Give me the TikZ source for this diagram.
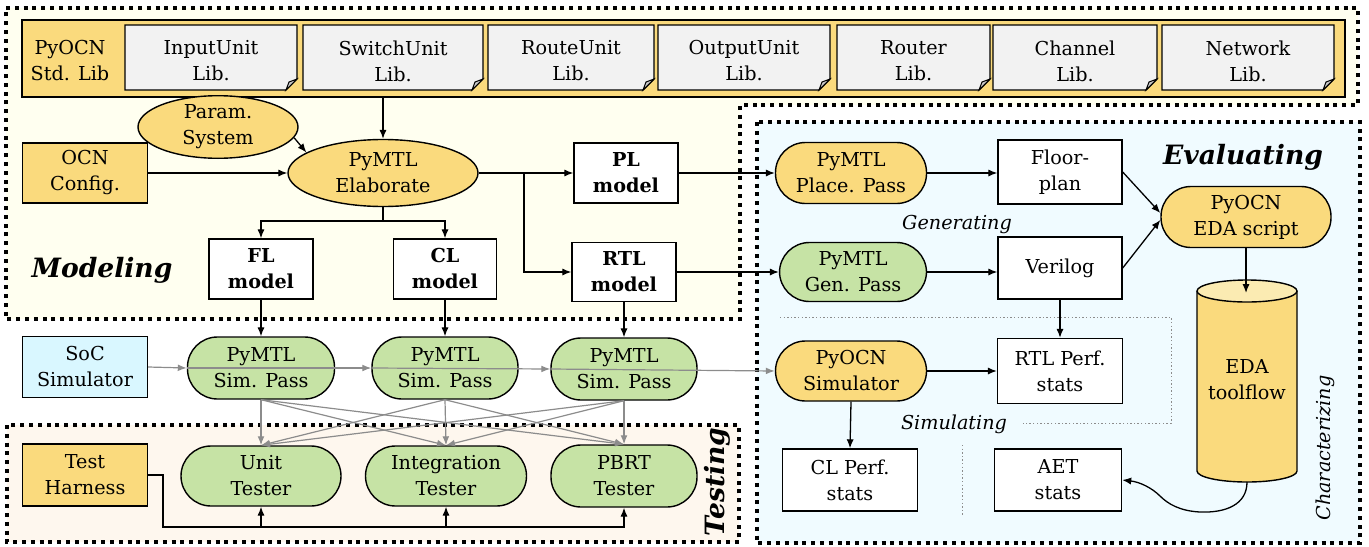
\documentclass[tikz,border=0pt]{standalone}
\usepackage{fontspec}
\setmainfont{DejaVu Serif}
\usetikzlibrary{arrows.meta,shapes.geometric}
\definecolor{golden}{RGB}{250,218,125}
\definecolor{greenp}{RGB}{198,227,165}
\definecolor{libgray}{RGB}{242,242,242}
\definecolor{foldgray}{RGB}{200,200,200}
\definecolor{socblue}{RGB}{217,247,255}
\definecolor{modbg}{RGB}{255,255,240}
\definecolor{evalbg}{RGB}{240,251,255}
\definecolor{testbg}{RGB}{254,247,238}
\definecolor{cyltopc}{RGB}{251,235,178}
\definecolor{arrgray}{RGB}{140,140,140}
\newcommand{\myfs}{\fontsize{9.6}{13}\selectfont}
\newcommand{\mybigfs}{\fontsize{13.3}{15}\selectfont\bfseries\itshape}
\newcommand{\mydoc}[4]{%
  \filldraw[fill=libgray, line width=0.7pt] (#2,25) -- (#3,25) -- (#3,79) -- (#3-11,90) -- (#2,90) -- cycle;
  \filldraw[fill=foldgray, line width=0.5pt] (#3-11,90) -- (#3,79) -- (#3-8,82) -- cycle;
  \node[base] (#1) at ({(#2+#3)/2},61) {#4};}
\begin{document}
\begin{tikzpicture}[x=0.5pt,y=-0.5pt,
  base/.style={line width=0.7pt, inner sep=0pt, align=center, font=\myfs},
  rbox/.style={base, draw, rectangle, fill=white},
  pill/.style={base, draw, rectangle, rounded corners=15pt},
  oval/.style={base, draw, ellipse, fill=golden},
  arr/.style={line width=0.65pt, -{Latex[length=4.5pt,width=3.6pt]}},
  garr/.style={line width=0.6pt, draw=arrgray, -{Latex[length=4.5pt,width=3.4pt]}},
  region/.style={line width=2pt, dash pattern=on 2pt off 2.4pt},
  sep/.style={line width=0.5pt, draw=arrgray, dash pattern=on 0.7pt off 1.1pt},
  biglab/.style={inner sep=0pt, font=\mybigfs},
  itlab/.style={inner sep=0pt, font=\myfs\itshape}]
\useasboundingbox (0,0) rectangle (1369,546);
% backgrounds
\fill[modbg] (6,8) -- (1358,8) -- (1358,105) -- (740,105) -- (740,319) -- (6,319) -- cycle;
\fill[evalbg] (757,122) rectangle (1360,543);
\fill[testbg] (7,425) rectangle (739,542);
\draw[region] (6,8) -- (1358,8) -- (1358,105) -- (740,105) -- (740,319) -- (6,319) -- cycle;
\draw[region] (757,122) rectangle (1360,543);
\draw[region] (7,425) rectangle (739,542);
% separators
\draw[sep] (780,317) -- (1171,317) -- (1171,423) -- (1023,423);
\draw[sep] (962,445) -- (962,515);
% library strip
\node[base, draw, fill=golden, minimum width=661.5pt, minimum height=38.5pt] (strip) at (683.5,58.5) {};
\node[base] (stdlib) at (70,61) {PyOCN\\Std. Lib};
\mydoc{inlib}{125}{297}{InputUnit\\Lib.}
\mydoc{swlib}{303}{483}{SwitchUnit\\Lib.}
\mydoc{rulib}{488}{654}{RouteUnit\\Lib.}
\mydoc{oulib}{658}{830}{OutputUnit\\Lib.}
\mydoc{rtlib}{837}{990}{Router\\Lib.}
\mydoc{chlib}{993}{1157}{Channel\\Lib.}
\mydoc{nwlib}{1162}{1334}{Network\\Lib.}
% modeling
\node[oval, minimum width=80pt, minimum height=25pt] (param) at (218,127) {Param.\\System};
\node[base, draw, fill=golden, minimum width=62.5pt, minimum height=30pt] (ocn) at (85,173) {OCN\\Config.};
\node[oval, minimum width=95pt, minimum height=33.5pt] (elab) at (383,173) {PyMTL\\Elaborate};
\node[rbox, minimum width=52pt, minimum height=30pt, font=\myfs\bfseries] (fl) at (261,269) {FL\\model};
\node[rbox, minimum width=51.5pt, minimum height=30pt, font=\myfs\bfseries] (cl) at (445,269) {CL\\model};
\node[rbox, minimum width=52pt, minimum height=30pt, font=\myfs\bfseries] (pl) at (626,173) {PL\\model};
\node[rbox, minimum width=52pt, minimum height=29.5pt, font=\myfs\bfseries] (rtl) at (624,272) {RTL\\model};
\node[biglab] (modlab) at (102,270) {Modeling};
% evaluating
\node[pill, fill=golden, minimum width=75.5pt, minimum height=30.5pt] (place) at (851,173) {PyMTL\\Place. Pass};
\node[rbox, minimum width=62pt, minimum height=32pt] (floor) at (1060,172) {Floor-\\plan};
\node[pill, fill=golden, minimum width=85pt, minimum height=30.5pt] (eda) at (1246,217) {PyOCN\\EDA script};
\node[pill, fill=greenp, minimum width=73.5pt, minimum height=29.5pt] (gen) at (853,272) {PyMTL\\Gen. Pass};
\node[rbox, minimum width=62pt, minimum height=31pt] (verilog) at (1060,268) {Verilog};
\node[rbox, minimum width=62.5pt, minimum height=32.5pt] (rtlperf) at (1060,371) {RTL Perf.\\stats};
\node[pill, fill=golden, minimum width=75.5pt, minimum height=30pt] (pysim) at (851,371) {PyOCN\\Simulator};
\node[rbox, minimum width=67.5pt, minimum height=31pt] (clperf) at (850,480) {CL Perf.\\stats};
\node[rbox, minimum width=63.5pt, minimum height=31pt] (aet) at (1058,480) {AET\\stats};
\fill[golden] (1197,291) -- (1197,471) arc[start angle=180,end angle=360,x radius=25pt,y radius=5.5pt] -- (1297,291) -- cycle;
\draw[line width=0.7pt] (1197,291) -- (1197,471) arc[start angle=180,end angle=360,x radius=25pt,y radius=5.5pt] -- (1297,291);
\filldraw[fill=cyltopc, line width=0.7pt] (1247,291) ellipse[x radius=25pt, y radius=5.5pt];
\node[base] (cyl) at (1247,380) {EDA\\toolflow};
\coordinate (cyltop) at (1246,293);
\coordinate (cylbot) at (1247,482);
\node[biglab] (evallab) at (1243,157) {Evaluating};
\node[itlab] (genlab) at (957,225) {Generating};
\node[itlab] (simlab) at (954,424) {Simulating};
\node[itlab, rotate=90] (charlab) at (1325,448) {Characterizing};
% simulation
\node[base, draw, fill=socblue, minimum width=62.5pt, minimum height=30.5pt] (soc) at (85,367) {SoC\\Simulator};
\node[pill, fill=greenp, minimum width=73.5pt, minimum height=31pt] (sp1) at (261,368) {PyMTL\\Sim. Pass};
\node[pill, fill=greenp, minimum width=73pt, minimum height=31pt] (sp2) at (445,368) {PyMTL\\Sim. Pass};
\node[pill, fill=greenp, minimum width=73pt, minimum height=31pt] (sp3) at (624,369) {PyMTL\\Sim. Pass};
% testing
\node[base, draw, fill=golden, minimum width=62.5pt, minimum height=31pt] (harness) at (85,475) {Test\\Harness};
\node[pill, fill=greenp, minimum width=80pt, minimum height=30pt] (unit) at (261,476) {Unit\\Tester};
\node[pill, fill=greenp, minimum width=80.5pt, minimum height=30pt] (integ) at (446,476) {Integration\\Tester};
\node[pill, fill=greenp, minimum width=73pt, minimum height=31pt] (pbrt) at (624,476) {PBRT\\Tester};
\node[biglab, rotate=90] (testlab) at (717,482) {Testing};
% connectors modeling
\draw[arr] (strip.south -| elab.north) -- (elab.north);
\draw[arr] (param.-8) -- (elab.165);
\draw[arr] (ocn.east) -- (elab.west);
\coordinate (ej) at (383,221);
\draw[arr] (elab.south) -- (ej) -| (fl.north);
\draw[arr] (ej) -| (cl.north);
\draw[arr] (elab.east) -- (pl.west);
\coordinate (eb) at (524,173);
\draw[arr] (eb) |- (rtl.west);
\draw[arr] (pl.east) -- (place.west);
\draw[arr] (place.east) -- (floor.west |- place.east);
\draw[arr] (floor.east) -- ([yshift=2pt]eda.west);
\draw[arr] (rtl.east) -- (gen.west);
\draw[arr] (gen.east) -- (gen.east -| verilog.west);
\draw[arr] (verilog.east) -- ([yshift=-1.5pt]eda.west);
\draw[arr] (verilog.south) -- (rtlperf.north);
\draw[arr] (pysim.east) -- (rtlperf.west);
\draw[arr] (pysim.south) -- (clperf.north);
\draw[arr] (eda.south) -- (cyltop);
\draw[arr] (cylbot) .. controls (1247,505) and (1225,513) .. (1200,512) .. controls (1180,511) and (1168,504) .. (1160,496) .. controls (1152,488) and (1140,482) .. (aet.east);
\draw[arr] (fl.south) -- (sp1.north);
\draw[arr] (cl.south) -- (sp2.north);
\draw[arr] (rtl.south) -- (sp3.north);
% gray simulation chain
\draw[garr] (soc.east) -- (sp1.west);
\draw[garr] (sp1.west) -- (sp2.west);
\draw[garr] (sp2.west) -- (sp3.west);
\draw[garr] (sp3.west) -- (pysim.west);
\foreach \s in {sp1,sp2,sp3}{
  \foreach \t in {unit,integ,pbrt}{
    \draw[garr] (\s.south) -- (\t.north);
  }
}
% harness
\coordinate (hb) at (163,527);
\draw[arr] (harness.east) -| (hb) -| (pbrt.south);
\draw[arr] (hb -| unit.south) -- (unit.south);
\draw[arr] (hb -| integ.south) -- (integ.south);
\end{tikzpicture}
\end{document}
